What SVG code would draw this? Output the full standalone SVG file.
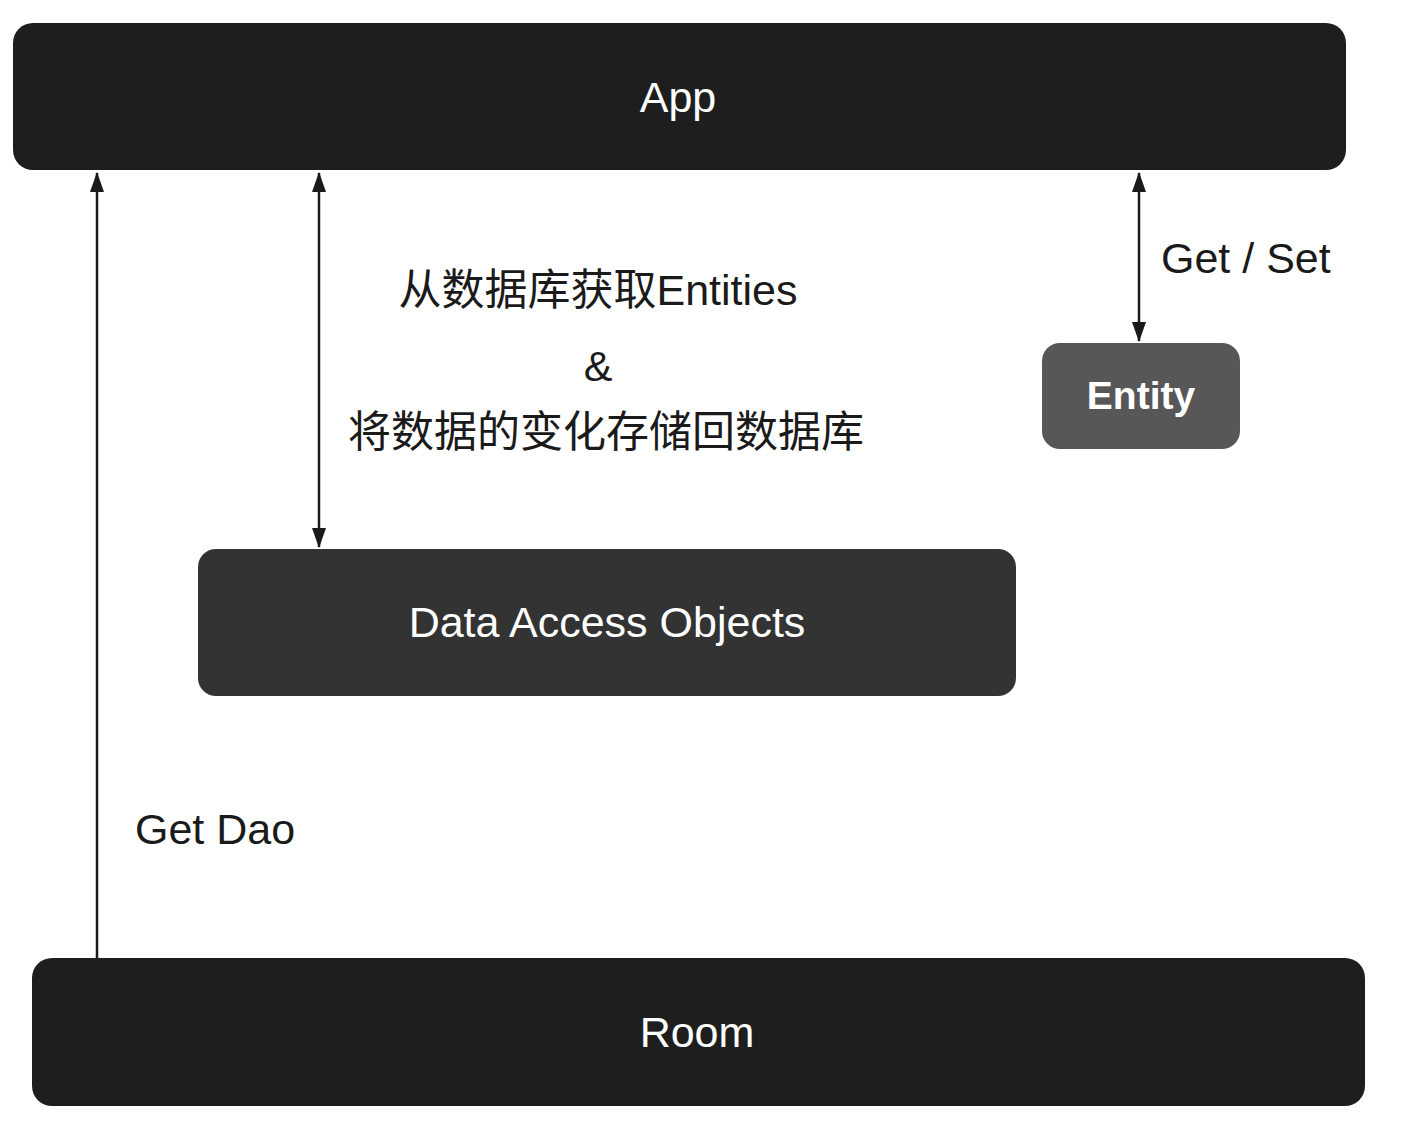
<svg xmlns="http://www.w3.org/2000/svg" width="1410" height="1126" viewBox="0 0 1410 1126">
<style>
.lbl{font-family:"Liberation Sans","Noto Sans CJK SC",sans-serif;font-size:43px;fill:#1a1a1a}
.w{font-family:"Liberation Sans",sans-serif;font-size:43px;fill:#ffffff}
.ln{stroke:#1a1a1a;stroke-width:2.5;fill:none}
</style>
<defs>
<marker id="ah" viewBox="0 0 20 14" refX="19" refY="7" markerWidth="20" markerHeight="14" markerUnits="userSpaceOnUse" orient="auto-start-reverse">
<path d="M0,0 L20,7 L0,14 Z" fill="#1a1a1a"/>
</marker>
</defs>
<rect width="1410" height="1126" fill="#ffffff"/>
<g id="app">
<rect x="13" y="23" width="1333" height="147" rx="20" fill="#1e1e1e"/>
<text class="w" x="678" y="112" text-anchor="middle">App</text>
</g>
<g id="dao">
<rect x="198" y="549" width="818" height="147" rx="18" fill="#333333"/>
<text class="w" x="607" y="637" text-anchor="middle">Data Access Objects</text>
</g>
<g id="entity">
<rect x="1042" y="343" width="198" height="106" rx="18" fill="#575757"/>
<text class="w" x="1141" y="409" text-anchor="middle" font-weight="bold" style="font-size:39px">Entity</text>
</g>
<g id="room">
<rect x="32" y="958" width="1333" height="148" rx="20" fill="#1e1e1e"/>
<text class="w" x="697" y="1047" text-anchor="middle">Room</text>
</g>
<g id="connectors">
<line class="ln" x1="97" y1="958" x2="97" y2="173" marker-end="url(#ah)"/>
<line class="ln" x1="319" y1="173" x2="319" y2="547" marker-start="url(#ah)" marker-end="url(#ah)"/>
<line class="ln" x1="1139" y1="173" x2="1139" y2="341" marker-start="url(#ah)" marker-end="url(#ah)"/>
</g>
<g id="labels">
<text class="lbl" x="598" y="305" text-anchor="middle">从数据库获取Entities</text>
<text class="lbl" x="598" y="381" text-anchor="middle">&amp;</text>
<text class="lbl" x="606" y="447" text-anchor="middle">将数据的变化存储回数据库</text>
<text class="lbl" x="1161" y="273">Get / Set</text>
<text class="lbl" x="135" y="844">Get Dao</text>
</g>
</svg>
